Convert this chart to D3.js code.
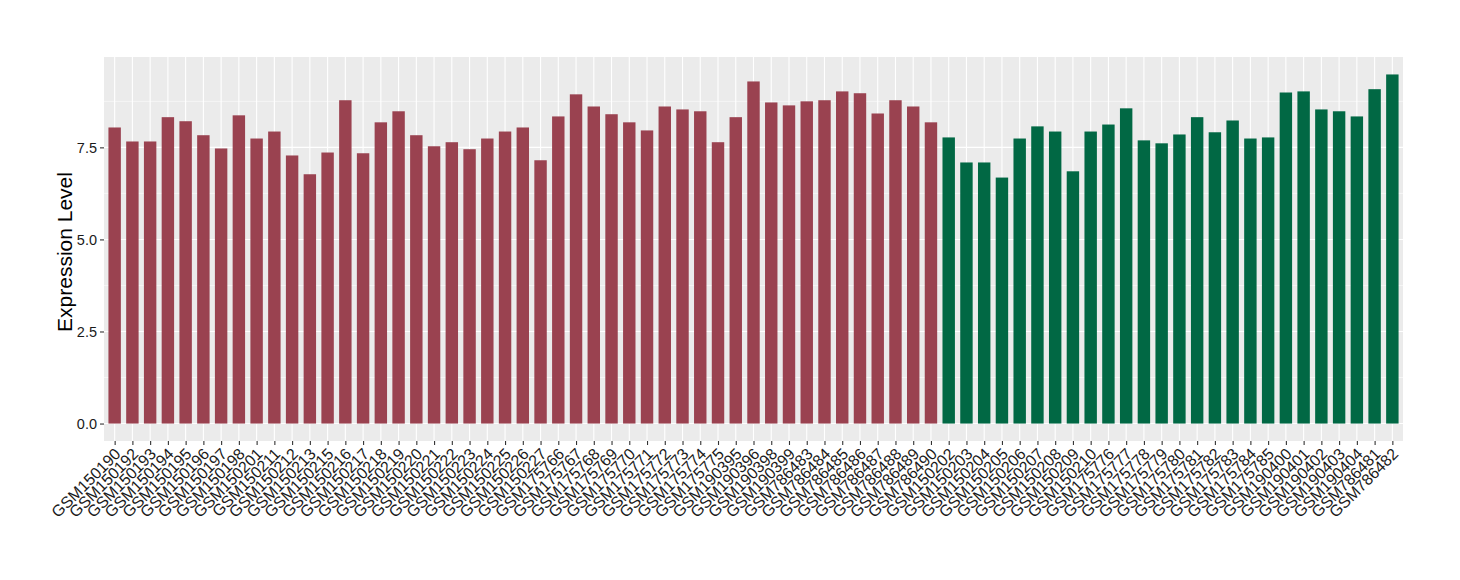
<!DOCTYPE html>
<html>
<head>
<meta charset="utf-8">
<script src="https://cdn.jsdelivr.net/npm/d3@7"></script>
<style>
  body { margin: 0; background: #fff; }
  svg text { font-family: "Liberation Sans", Arial, sans-serif; }
</style>
</head>
<body>
<div id="chart"></div>
<script>
// samples in plot order, split by group
var groupA = ['GSM150190', 'GSM150192', 'GSM150193', 'GSM150194', 'GSM150195', 'GSM150196',
  'GSM150197', 'GSM150198', 'GSM150201', 'GSM150211', 'GSM150212', 'GSM150213', 'GSM150215',
  'GSM150216', 'GSM150217', 'GSM150218', 'GSM150219', 'GSM150220', 'GSM150221', 'GSM150222',
  'GSM150223', 'GSM150224', 'GSM150225', 'GSM150226', 'GSM150227', 'GSM175766', 'GSM175767',
  'GSM175768', 'GSM175769', 'GSM175770', 'GSM175771', 'GSM175772', 'GSM175773', 'GSM175774',
  'GSM175775', 'GSM190395', 'GSM190396', 'GSM190398', 'GSM190399', 'GSM786483', 'GSM786484',
  'GSM786485', 'GSM786486', 'GSM786487', 'GSM786488', 'GSM786489', 'GSM786490']
var valuesA = [8.04, 7.66, 7.66, 8.32, 8.21, 7.83, 7.47, 8.37, 7.74, 7.93, 7.28, 6.77, 7.36,
  8.78, 7.34, 8.18, 8.48, 7.83, 7.53, 7.64, 7.45, 7.74, 7.93, 8.04, 7.15, 8.34, 8.94,
  8.61, 8.40, 8.18, 7.96, 8.61, 8.53, 8.48, 7.64, 8.32, 9.29, 8.72, 8.64, 8.75, 8.78,
  9.02, 8.97, 8.42, 8.78, 8.61, 8.18]

var groupB = ['GSM150202', 'GSM150203', 'GSM150204', 'GSM150205', 'GSM150206', 'GSM150207',
  'GSM150208', 'GSM150209', 'GSM150210', 'GSM175776', 'GSM175777', 'GSM175778', 'GSM175779',
  'GSM175780', 'GSM175781', 'GSM175782', 'GSM175783', 'GSM175784', 'GSM175785', 'GSM190400',
  'GSM190401', 'GSM190402', 'GSM190403', 'GSM190404', 'GSM786481', 'GSM786482']
var valuesB = [7.77, 7.09, 7.09, 6.68, 7.74, 8.07, 7.93, 6.85, 7.93, 8.12, 8.56, 7.69, 7.61,
  7.85, 8.32, 7.91, 8.23, 7.74, 7.77, 8.99, 9.02, 8.53, 8.48, 8.34, 9.08, 9.48]

var yTicks = [0, 2.5, 5, 7.5]
var yMinor = [1.25, 3.75, 6.25, 8.75]
var groupColors = ['#9a4250', '#016844']

var width = 1460
var height = 580
var panel = { left: 104, right: 1403, top: 57, bottom: 441 }

var data = []
groupA.forEach(function (s, i) { data.push({ sample: s, value: valuesA[i], group: 0 }) })
groupB.forEach(function (s, i) { data.push({ sample: s, value: valuesB[i], group: 1 }) })

var maxVal = d3.max(data, function (d) { return d.value })
var pad = maxVal * 0.05

var x = d3.scalePoint()
  .domain(data.map(function (d) { return d.sample }))
  .range([panel.left, panel.right])
  .padding(0.6)
var y = d3.scaleLinear()
  .domain([-pad, maxVal + pad])
  .range([panel.bottom, panel.top])
var barW = x.step() * 0.7

var svg = d3.select('#chart')
  .append('svg')
  .attr('width', width)
  .attr('height', height)

// panel background
svg.append('rect')
  .attr('x', panel.left)
  .attr('y', panel.top)
  .attr('width', panel.right - panel.left)
  .attr('height', panel.bottom - panel.top)
  .attr('fill', '#ebebeb')

// grid lines
svg.append('g').selectAll('line')
  .data(yMinor)
  .enter()
  .append('line')
  .attr('x1', panel.left).attr('x2', panel.right)
  .attr('y1', function (d) { return y(d) }).attr('y2', function (d) { return y(d) })
  .attr('stroke', '#fff').attr('stroke-width', 0.55)
svg.append('g').selectAll('line')
  .data(yTicks)
  .enter()
  .append('line')
  .attr('x1', panel.left).attr('x2', panel.right)
  .attr('y1', function (d) { return y(d) }).attr('y2', function (d) { return y(d) })
  .attr('stroke', '#fff').attr('stroke-width', 1.1)
svg.append('g').selectAll('line')
  .data(x.domain())
  .enter()
  .append('line')
  .attr('x1', function (d) { return x(d) }).attr('x2', function (d) { return x(d) })
  .attr('y1', panel.top).attr('y2', panel.bottom)
  .attr('stroke', '#fff').attr('stroke-width', 1.1)

// bars
svg.append('g').selectAll('rect')
  .data(data)
  .enter()
  .append('rect')
  .attr('x', function (d) { return x(d.sample) - barW / 2 })
  .attr('y', function (d) { return y(d.value) })
  .attr('width', barW)
  .attr('height', function (d) { return y(0) - y(d.value) })
  .attr('fill', function (d) { return groupColors[d.group] })

// y axis
var yAxis = svg.append('g')
  .attr('transform', 'translate(' + panel.left + ',0)')
  .call(d3.axisLeft(y).tickValues(yTicks).tickSize(4).tickPadding(3)
    .tickFormat(d3.format('.1f')))
yAxis.select('.domain').remove()
yAxis.selectAll('line').attr('stroke', '#333').attr('stroke-width', 1.1)
yAxis.selectAll('text').attr('font-size', 14.5).attr('fill', '#1a1a1a')
  .style('font-family', '"Liberation Sans", Arial, sans-serif')

// x axis
var xAxis = svg.append('g')
  .attr('transform', 'translate(0,' + panel.bottom + ')')
  .call(d3.axisBottom(x).tickSize(4).tickFormat(''))
xAxis.select('.domain').remove()
xAxis.selectAll('line').attr('stroke', '#333').attr('stroke-width', 1.1)

svg.append('g').selectAll('text')
  .data(x.domain())
  .enter()
  .append('text')
  .attr('transform', function (d) {
    return 'translate(' + (x(d) + 7) + ',' + (panel.bottom + 14) + ') rotate(-45)'
  })
  .attr('text-anchor', 'end')
  .attr('font-size', 16)
  .attr('fill', '#1a1a1a')
  .text(function (d) { return d })

// y title
svg.append('text')
  .attr('transform', 'translate(72,' + ((panel.top + panel.bottom) / 2 + 3) + ') rotate(-90)')
  .attr('text-anchor', 'middle')
  .attr('font-size', 21)
  .attr('fill', '#000')
  .text('Expression Level')
</script>
</body>
</html>
